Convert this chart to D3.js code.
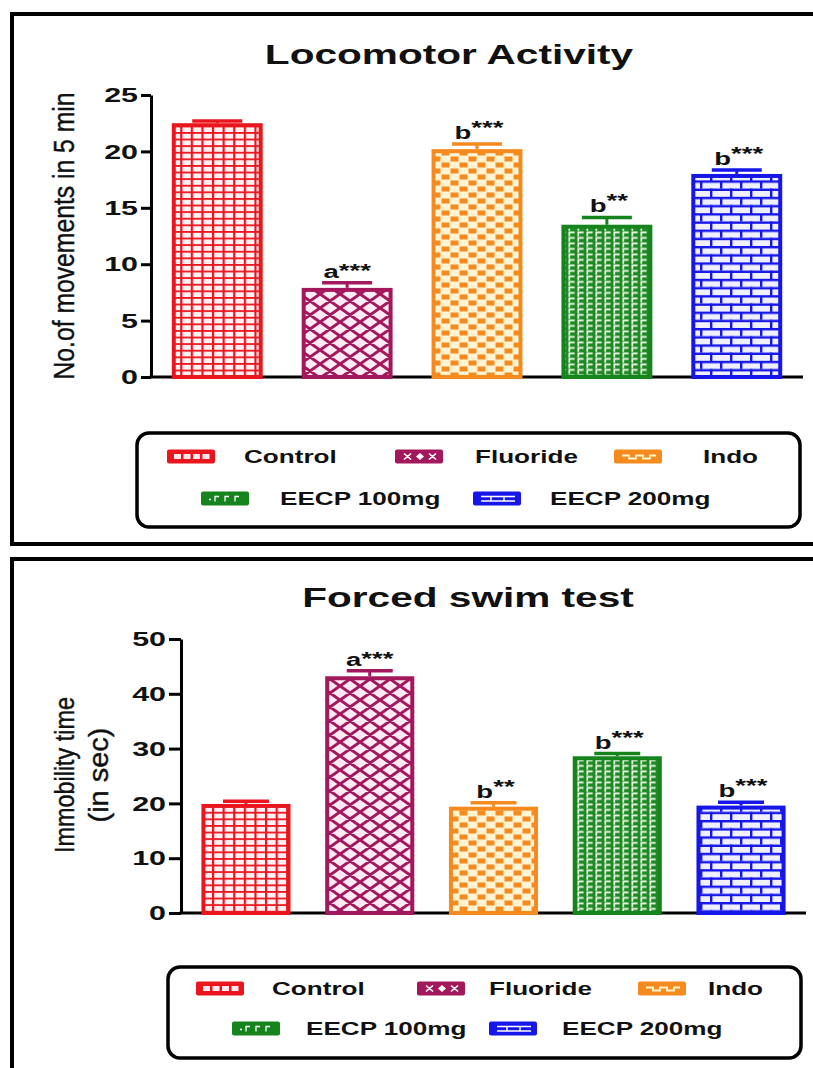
<!DOCTYPE html>
<html><head><meta charset="utf-8">
<script src="https://cdn.jsdelivr.net/npm/d3@7"></script>
<style>body{margin:0;background:#fff}svg{display:block}</style>
</head><body><svg id="c" width="813" height="1068"></svg>
<script>
// ---------- data ----------
const categories = ["Control", "Fluoride", "Indo", "EECP 100mg", "EECP 200mg"];
const locoMeans = [22.5, 7.9, 20.2, 13.5, 18.0];
const locoSEM   = [0.2, 0.45, 0.45, 0.65, 0.35];
const locoSig   = ["", "a***", "b***", "b**", "b***"];
const locoTicks = [0, 5, 10, 15, 20, 25];
const fstMeans  = [19.9, 43.2, 19.4, 28.6, 19.6];
const fstSEM    = [0.5, 1.0, 0.7, 0.5, 0.6];
const fstSig    = ["", "a***", "b**", "b***", "b***"];
const fstTicks  = [0, 10, 20, 30, 40, 50];
const colors = ["#e9161e", "#a3185c", "#f58a1f", "#16841c", "#1616e8"];

const SX = 1.45; // horizontal text stretch
const FONT = "'Liberation Sans', Arial, sans-serif";
const svg = d3.select("#c");
const defs = svg.append("defs");

// ---------- patterns ----------
function pat(id, w, h, bg) {
  const p = defs.append("pattern").attr("id", id).attr("patternUnits", "userSpaceOnUse")
    .attr("width", w).attr("height", h);
  p.append("rect").attr("width", w).attr("height", h).attr("fill", bg);
  return p;
}
{ // control grid
  const p = pat("p0", 10.6, 6.6, "#fff0f3");
  p.append("rect").attr("x", 0).attr("y", 0).attr("width", 2.2).attr("height", 6.6).attr("fill", colors[0]);
  p.append("rect").attr("x", 0).attr("y", 0).attr("width", 10.6).attr("height", 1.8).attr("fill", colors[0]);
}
{ // fluoride diamonds
  const p = pat("p1", 20, 14, "#ffeaf4");
  p.append("path").attr("d", "M-2,-1.4L22,15.4M22,-1.4L-2,15.4M-10,7L10,-7M10,21L30,7M10,-7L30,7M-10,7L10,21")
    .attr("stroke", colors[1]).attr("stroke-width", 3).attr("fill", "none");
}
{ // indo checks
  const p = pat("p2", 18, 12, "#fff4d2");
  p.append("rect").attr("x", 0.5).attr("y", 0.5).attr("width", 8).attr("height", 5).attr("fill", colors[2]);
  p.append("rect").attr("x", 9.5).attr("y", 6.5).attr("width", 8).attr("height", 5).attr("fill", colors[2]);
}
{ // green marks
  const p = pat("p3", 9, 5.5, "#1f8a25");
  p.append("path").attr("d", "M2.3,5.2V1.4H7.6").attr("stroke", "#eef9e8").attr("stroke-width", 1.7).attr("fill", "none");
}
{ // blue bricks
  const p = pat("p4", 20, 16.4, "#eef0ff");
  p.append("rect").attr("x", 0).attr("y", 0).attr("width", 20).attr("height", 2.4).attr("fill", colors[4]);
  p.append("rect").attr("x", 0).attr("y", 8.2).attr("width", 20).attr("height", 2.4).attr("fill", colors[4]);
  p.append("rect").attr("x", 0).attr("y", 0).attr("width", 2.4).attr("height", 8.2).attr("fill", colors[4]);
  p.append("rect").attr("x", 10).attr("y", 8.2).attr("width", 2.4).attr("height", 8.2).attr("fill", colors[4]);
}

function stretchedText(g, x, y, txt, size, anchor, weight) {
  return g.append("text").attr("transform", `translate(${x},${y}) scale(${SX},1)`)
    .attr("text-anchor", anchor).attr("font-family", FONT).attr("font-weight", weight || "bold")
    .attr("font-size", size).attr("fill", "#111").text(txt);
}

function swatchMarks(g, i) {
  const w = "#fff";
  if (i === 0) {
    for (let k = 0; k < 4; k++) g.append("rect").attr("x", 7 + k * 9.5).attr("y", 4.5).attr("width", 7).attr("height", 5).attr("fill", "#ffe9ee");
  } else if (i === 1) {
    g.append("path").attr("d", "M9,4L16,10M16,4L9,10M34,4L41,10M41,4L34,10").attr("stroke", w).attr("stroke-width", 1.6);
    g.append("path").attr("d", "M25,3.5L29,7L25,10.5L21,7Z").attr("fill", w);
  } else if (i === 2) {
    g.append("path").attr("d", "M8,6H15V9H22V6H29V9H36V6H42").attr("stroke", "#fff3c8").attr("stroke-width", 1.8).attr("fill", "none");
  } else if (i === 3) {
    g.append("path").attr("d", "M8,8H10M14,10V5H18M24,10V5H28M34,10V5H38").attr("stroke", w).attr("stroke-width", 1.3).attr("fill", "none");
  } else {
    g.append("path").attr("d", "M8,5H42M8,9.5H42M18,5V9.5M31,5V9.5").attr("stroke", w).attr("stroke-width", 1.5).attr("fill", "none");
  }
}

function drawChart(cfg) {
  const g = svg.append("g");
  // panel border
  g.append("rect").attr("x", cfg.panel[0]).attr("y", cfg.panel[1]).attr("width", cfg.panel[2]).attr("height", cfg.panel[3])
    .attr("fill", "none").attr("stroke", "#000").attr("stroke-width", 4);
  // title
  stretchedText(g, cfg.titleX, cfg.titleY, cfg.title, 28, "middle");

  const x = d3.scaleBand().domain(categories).range(cfg.xRange).paddingInner(cfg.padIn).paddingOuter(cfg.padOut);
  const y = d3.scaleLinear().domain([0, cfg.ticks[cfg.ticks.length - 1]]).range(cfg.yRange);

  // y axis
  const ax = g.append("g").attr("transform", `translate(${cfg.xRange[0]},0)`)
    .call(d3.axisLeft(y).tickValues(cfg.ticks).tickSize(cfg.tickSize).tickPadding(3).tickSizeOuter(0));
  ax.select(".domain").attr("stroke", "#000").attr("stroke-width", 3);
  ax.selectAll(".tick line").attr("stroke", "#000").attr("stroke-width", 3);
  ax.selectAll(".tick text").attr("font-family", FONT).attr("font-weight", "bold").attr("font-size", 21).attr("fill", "#111")
    .each(function () {
      const t = d3.select(this); const xx = +t.attr("x");
      t.attr("x", 0).attr("transform", `translate(${xx},0) scale(${SX},1)`);
    });
  // x axis line
  g.append("line").attr("x1", cfg.xRange[0] - 1.5).attr("x2", cfg.xRange[1]).attr("y1", y(0)).attr("y2", y(0))
    .attr("stroke", "#000").attr("stroke-width", 3);

  // y label
  cfg.yLabel.forEach((lab) => {
    g.append("text").attr("transform", `translate(${lab.x},${cfg.yLabelY}) rotate(-90)`)
      .attr("text-anchor", "middle").attr("font-family", "'Liberation Sans Narrow', 'Liberation Sans', sans-serif")
      .attr("font-size", lab.size).attr("fill", "#111").attr("stroke", "#111").attr("stroke-width", 0.4)
      .attr("textLength", lab.len).attr("lengthAdjust", "spacingAndGlyphs").text(lab.text);
  });

  // bars
  categories.forEach((c, i) => {
    const v = cfg.means[i], s = cfg.sem[i];
    const bx = x(c) + 2, bw = x.bandwidth() - 4;
    const cx = x(c) + x.bandwidth() / 2;
    // error bar
    g.append("line").attr("x1", cx).attr("x2", cx).attr("y1", y(v)).attr("y2", y(v + s))
      .attr("stroke", colors[i]).attr("stroke-width", 3);
    g.append("line").attr("x1", cx - cfg.cap / 2).attr("x2", cx + cfg.cap / 2).attr("y1", y(v + s)).attr("y2", y(v + s))
      .attr("stroke", colors[i]).attr("stroke-width", 3.5);
    g.append("rect").attr("x", bx).attr("y", y(v) + 2).attr("width", bw).attr("height", y(0) - y(v) - 2)
      .attr("fill", `url(#p${i})`).attr("stroke", colors[i]).attr("stroke-width", 4);
    const lab = cfg.sig[i];
    if (lab) {
      const letter = lab[0], stars = lab.slice(1);
      const t = stretchedText(g, cx + (letter === "b" ? 2 : 0), y(v + s) - 5, "", 19, "middle");
      t.append("tspan").text(letter);
      t.append("tspan").attr("dy", letter === "b" ? -5 : -1).text(stars);
    }
  });

  // legend
  const L = cfg.legend;
  g.append("rect").attr("x", L.box[0]).attr("y", L.box[1]).attr("width", L.box[2]).attr("height", L.box[3])
    .attr("rx", 12).attr("fill", "#fff").attr("stroke", "#000").attr("stroke-width", 3.5);
  categories.forEach((c, i) => {
    const by = L.rows[i];
    const sg = g.append("g").attr("transform", `translate(${L.sw[i]},${by - 13.5})`);
    sg.append("rect").attr("width", 48).attr("height", 14).attr("rx", 2).attr("fill", colors[i]);
    swatchMarks(sg, i);
    stretchedText(g, L.tx[i], by, c, 18, "start");
  });
}

drawChart({
  panel: [12, 14, 900, 530],
  title: "Locomotor Activity", titleX: 449, titleY: 64,
  xRange: [151, 803], padIn: 0.3, padOut: 0.16,
  yRange: [377, 95], ticks: locoTicks, tickSize: 10,
  means: locoMeans, sem: locoSEM, sig: locoSig, cap: 50,
  yLabelY: 236,
  yLabel: [{ text: "No.of movements in 5 min", x: 74, size: 30, len: 287 }],
  legend: {
    box: [137, 433, 663, 94],
    sw: [167, 395, 614, 201, 473],
    tx: [244, 475, 703, 280, 550],
    rows: [463, 463, 463, 505, 505]
  }
});

drawChart({
  panel: [12, 559, 900, 600],
  title: "Forced swim test", titleX: 468, titleY: 607,
  xRange: [181, 806], padIn: 0.28, padOut: 0.165,
  yRange: [913, 639], ticks: fstTicks, tickSize: 12,
  means: fstMeans, sem: fstSEM, sig: fstSig, cap: 46,
  yLabelY: 775,
  yLabel: [{ text: "Immobility time", x: 74, size: 27, len: 156 },
           { text: "(in sec)", x: 108, size: 27, len: 95 }],
  legend: {
    box: [168, 967, 633, 91],
    sw: [196, 417, 638, 232, 489],
    tx: [272, 489, 708, 306, 562],
    rows: [995, 995, 995, 1035, 1035]
  }
});
</script></body></html>
